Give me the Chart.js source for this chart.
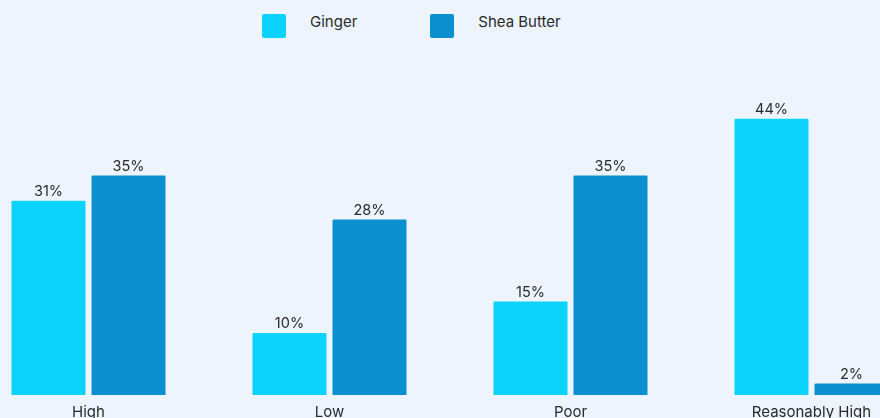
<!DOCTYPE html>
<html>
<head>
<meta charset="utf-8">
<script src="https://cdn.jsdelivr.net/npm/chart.js@4/dist/chart.umd.min.js"></script>
<style>
  html, body { margin: 0; padding: 0; }
  body { width: 880px; height: 418px; overflow: hidden; position: relative; background: #EDF4FE; font-family: Inter, "DejaVu Sans", sans-serif; }
  #legend { position: absolute; top: 14px; left: 262px; display: flex; color: #2a2a2a; font-size: 15px; }
  #legend .item { display: flex; align-items: flex-start; margin-right: 73px; }
  #legend .box { width: 24px; height: 24px; border-radius: 2px; margin-right: 24px; }
  #legend .text { line-height: 16px; }
  #wrap { position: absolute; left: -32px; top: 0; width: 964px; height: 429px; }
</style>
</head>
<body>
<div id="legend"></div>
<div id="wrap"><canvas id="chart"></canvas></div>
<script>
const categories = ['High', 'Low', 'Poor', 'Reasonably High'];
const ginger = [31, 10, 15, 44];
const sheaButter = [35, 28, 35, 2];
const seriesNames = ['Ginger', 'Shea Butter'];
const seriesColors = ['#0BD3FE', '#0A8FCF'];

// legend
const legend = document.getElementById('legend');
seriesNames.forEach((name, i) => {
    const item = document.createElement('div');
    item.className = 'item';
    item.innerHTML = '<span class="box" style="background:' + seriesColors[i] + '"></span><span class="text">' + name + '</span>';
    legend.appendChild(item);
});

// percent labels above each bar
const valueLabels = {
    id: 'valueLabels',
    afterDatasetsDraw(chart) {
        const ctx = chart.ctx;
        ctx.save();
        ctx.font = '14.5px Inter, "DejaVu Sans", sans-serif';
        ctx.fillStyle = '#2a2a2a';
        ctx.textAlign = 'center';
        ctx.textBaseline = 'bottom';
        chart.data.datasets.forEach((ds, di) => {
            chart.getDatasetMeta(di).data.forEach((bar, i) => {
                ctx.fillText(ds.data[i] + '%', bar.x, bar.y - 1);
            });
        });
        ctx.restore();
    }
};

new Chart(document.getElementById('chart'), {
    type: 'bar',
    data: {
        labels: categories,
        datasets: [{
            label: seriesNames[0],
            data: ginger,
            backgroundColor: seriesColors[0],
            borderColor: 'rgba(255,255,255,0.3)',
            borderWidth: 1,
            borderRadius: 2,
            categoryPercentage: 0.664,
            barPercentage: 0.95
        }, {
            label: seriesNames[1],
            data: sheaButter,
            backgroundColor: seriesColors[1],
            borderColor: 'rgba(255,255,255,0.3)',
            borderWidth: 1,
            borderRadius: 2,
            categoryPercentage: 0.664,
            barPercentage: 0.95
        }]
    },
    options: {
        responsive: true,
        maintainAspectRatio: false,
        animation: false,
        layout: { padding: { top: 80, left: 0, right: 0, bottom: 0 } },
        plugins: {
            legend: { display: false },
            tooltip: { enabled: false }
        },
        scales: {
            x: {
                grid: { display: false, drawTicks: false },
                border: { display: false },
                ticks: { color: '#2a2a2a', padding: 8, font: { family: 'Inter', size: 15 } }
            },
            y: {
                display: false,
                min: 0,
                max: 50
            }
        }
    },
    plugins: [valueLabels]
});
</script>
</body>
</html>
